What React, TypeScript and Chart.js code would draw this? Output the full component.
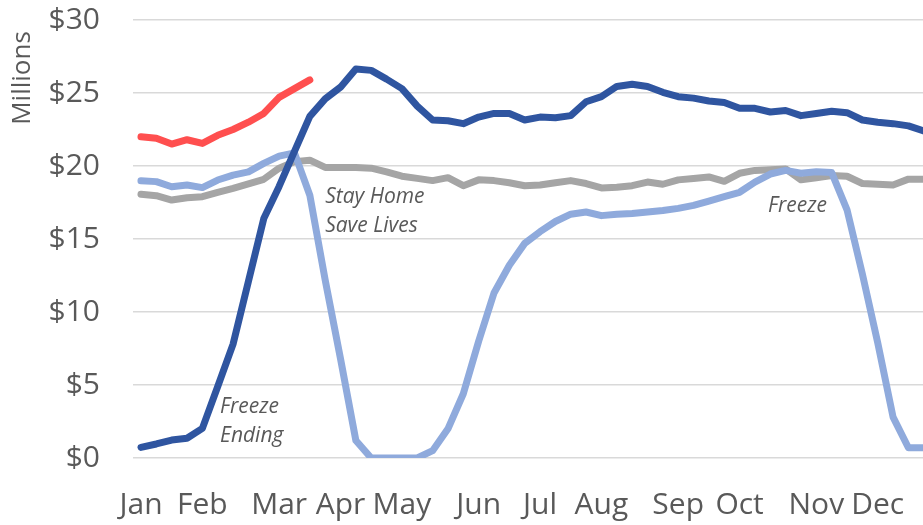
import React, { useEffect, useRef } from "react";
import { Chart, registerables } from "chart.js";

Chart.register(...registerables);

const FONT = '"Open Sans", "Liberation Sans", sans-serif';
const TEXT_COLOR = "#595959";

// Month tick labels and the week index where each month starts
const MONTH_LABELS = ["Jan", "Feb", "Mar", "Apr", "May", "Jun", "Jul", "Aug", "Sep", "Oct", "Nov", "Dec"];
const MONTH_WEEK_INDEX = [0, 4, 9, 13, 17, 22, 26, 30, 35, 39, 44, 48];

// Y axis (millions of dollars)
const Y_MIN = 0;
const Y_MAX = 30;
const Y_STEP = 5;

// Weekly series values ($ millions)
const SERIES_2019 = [
  18.06, 17.97, 17.67, 17.83, 17.9, 18.2, 18.47, 18.77, 19.09, 19.85,
  20.3, 20.4, 19.9, 19.9, 19.9, 19.85, 19.6, 19.3, 19.15, 19.0,
  19.2, 18.65, 19.05, 19.0, 18.85, 18.65, 18.7, 18.85, 19.0, 18.8,
  18.5, 18.55, 18.65, 18.9, 18.75, 19.05, 19.15, 19.25, 18.95, 19.5,
  19.7, 19.75, 19.8, 19.05, 19.2, 19.35, 19.3, 18.8, 18.75, 18.7,
  19.1, 19.1,
];
const SERIES_2020 = [
  18.99, 18.93, 18.58, 18.7, 18.52, 19.04, 19.38, 19.6, 20.18, 20.68,
  20.9, 18.0, 12.2, 6.8, 1.2, 0, 0, 0, 0, 0.5,
  2.0, 4.4, 8.0, 11.3, 13.2, 14.7, 15.5, 16.2, 16.7, 16.85,
  16.6, 16.7, 16.75, 16.85, 16.95, 17.1, 17.3, 17.6, 17.9, 18.2,
  18.9, 19.45, 19.7, 19.5, 19.6, 19.55, 17.0, 12.6, 7.9, 2.8,
  0.7, 0.7,
];
const SERIES_2021 = [
  0.73, 0.96, 1.23, 1.35, 2.03, 4.9, 7.8, 12.1, 16.4, 18.6,
  21.0, 23.4, 24.6, 25.4, 26.65, 26.55, 25.95, 25.3, 24.1, 23.15,
  23.1, 22.9, 23.35, 23.6, 23.6, 23.15, 23.35, 23.3, 23.45, 24.4,
  24.75, 25.45, 25.6, 25.45, 25.05, 24.75, 24.65, 24.45, 24.35, 23.95,
  23.95, 23.7, 23.8, 23.45, 23.6, 23.75, 23.65, 23.15, 23.0, 22.9,
  22.75, 22.4,
];
const SERIES_2022 = [22.0, 21.9, 21.5, 21.8, 21.55, 22.1, 22.5, 23.0, 23.6, 24.7, 25.3, 25.9];

// Annotations: text lines anchored at (week index, $ value)
const ANNOTATIONS = [
  { lines: ["Stay Home", "Save Lives"], week: 12.0, value: 17.47 },
  { lines: ["Freeze"], week: 40.85, value: 16.85 },
  { lines: ["Freeze", "Ending"], week: 5.15, value: 3.08 },
];

const toPoints = (arr: number[]) => arr.map((v, i) => ({ x: i, y: v }));

const overlayPlugin = {
  id: "overlay",
  afterDraw(chart: any) {
    const { ctx } = chart;
    const xs = chart.scales.x;
    const ys = chart.scales.y;
    ctx.save();
    ctx.fillStyle = TEXT_COLOR;
    ctx.font = `italic 21px ${FONT}`;
    ctx.textAlign = "left";
    ctx.textBaseline = "alphabetic";
    ANNOTATIONS.forEach((a) => {
      const px = xs.getPixelForValue(a.week);
      const py = ys.getPixelForValue(a.value);
      a.lines.forEach((t, k) => ctx.fillText(t, px, py + k * 29));
    });
    ctx.font = `26px ${FONT}`;
    ctx.translate(30, 78);
    ctx.rotate(-Math.PI / 2);
    ctx.textAlign = "center";
    ctx.fillText("Millions", 0, 0);
    ctx.restore();
  },
};

export default function App() {
  const ref = useRef<HTMLCanvasElement | null>(null);

  useEffect(() => {
    if (!ref.current) return;
    const line = (label: string, data: number[], color: string) => ({
      label,
      data: toPoints(data),
      borderColor: color,
      backgroundColor: color,
      borderWidth: 7,
      pointRadius: 0,
      tension: 0,
      borderJoinStyle: "round" as const,
      borderCapStyle: "round" as const,
    });
    const chart = new Chart(ref.current, {
      type: "line",
      data: {
        datasets: [
          line("2022", SERIES_2022, "#FF4F4F"),
          line("2021", SERIES_2021, "#2F55A0"),
          line("2020", SERIES_2020, "#8FAADC"),
          line("2019", SERIES_2019, "#A5A5A5"),
        ],
      },
      options: {
        animation: false,
        responsive: false,
        devicePixelRatio: 1,
        layout: { padding: { top: 20, right: 0, bottom: 0, left: 0 } },
        plugins: { legend: { display: false }, tooltip: { enabled: false }, title: { display: false } },
        scales: {
          x: {
            type: "linear",
            min: -0.52,
            max: 50.95,
            afterBuildTicks: (scale: any) => {
              scale.ticks = MONTH_WEEK_INDEX.map((v) => ({ value: v }));
            },
            afterFit: (scale: any) => {
              scale.height = 67;
              scale.paddingLeft = 0;
              scale.paddingRight = 0;
            },
            grid: { display: false, drawTicks: false },
            border: { display: false },
            ticks: {
              autoSkip: false,
              maxRotation: 0,
              minRotation: 0,
              padding: 29,
              color: TEXT_COLOR,
              font: { family: FONT, size: 30 },
              callback: (_v: any, i: number) => MONTH_LABELS[i],
            },
          },
          y: {
            min: Y_MIN,
            max: Y_MAX,
            afterFit: (scale: any) => {
              scale.width = 133;
              scale.paddingTop = 18;
              scale.paddingBottom = 18;
            },
            grid: { color: "#d9d9d9", lineWidth: 1.5, drawTicks: false },
            border: { display: false },
            ticks: {
              stepSize: Y_STEP,
              padding: 33,
              color: TEXT_COLOR,
              font: { family: FONT, size: 30 },
              callback: (v: any) => "$" + v,
            },
          },
        },
      },
      plugins: [overlayPlugin],
    });
    return () => chart.destroy();
  }, []);

  return (
    <div style={{ position: "absolute", left: 0, top: 0, width: 923, height: 525, overflow: "hidden", background: "#fff" }}>
      <canvas ref={ref} width={923} height={525} />
    </div>
  );
}
